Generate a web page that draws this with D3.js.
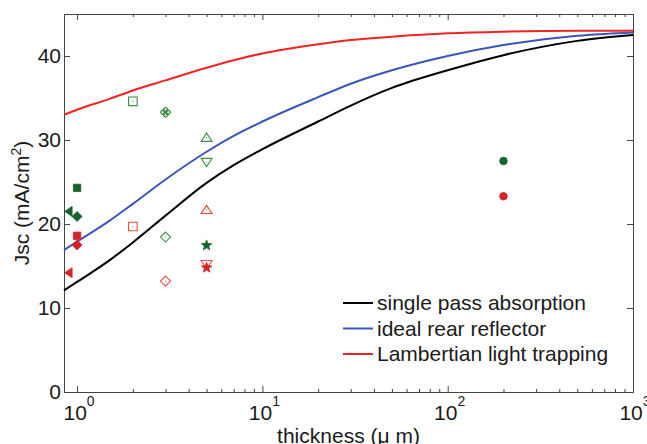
<!DOCTYPE html>
<html>
<head>
<meta charset="utf-8">
<script src="https://cdn.jsdelivr.net/npm/d3@7"></script>
<style>
  body { margin: 0; background: #fff; }
  svg text { font-family: "Liberation Sans", Arial, sans-serif; fill: #1a1a1a; }
  .axis path, .axis line { stroke: #444; }
</style>
</head>
<body>
<div id="chart"></div>
<script>
// curves
var thickness = [0.85, 1, 1.5, 2, 3, 5, 7, 10, 20, 30, 50, 100, 200, 500, 1000];
var singlePass = [12.1, 13.1, 15.7, 17.8, 21.0, 24.9, 27.0, 28.9, 32.2, 34.1, 36.2, 38.3, 40.1, 41.8, 42.5];
var rearReflector = [16.9, 17.9, 20.4, 22.4, 25.3, 28.6, 30.5, 32.2, 35.1, 36.7, 38.3, 40.0, 41.3, 42.4, 42.8];
var lambertian = [33.0, 33.6, 34.9, 35.9, 37.1, 38.6, 39.5, 40.3, 41.4, 41.9, 42.3, 42.7, 42.9, 43.0, 43.0];
var curveNames = ["single pass absorption", "ideal rear reflector", "Lambertian light trapping"];

// measured devices
var greenFilledX = [0.9, 1, 1, 5, 200];
var greenFilledY = [21.5, 24.3, 20.9, 17.45, 27.5];
var greenFilledShape = ["left", "square", "diamond", "star", "circle"];
var greenOpenX = [2, 3, 5, 5, 3];
var greenOpenY = [34.6, 33.3, 30.3, 27.35, 18.45];
var greenOpenShape = ["square", "diamondx", "up", "down", "diamond"];
var redFilledX = [0.9, 1, 1, 5, 200];
var redFilledY = [14.2, 18.6, 17.5, 14.8, 23.3];
var redFilledShape = ["left", "square", "diamond", "star", "circle"];
var redOpenX = [2, 3, 5, 5];
var redOpenY = [19.7, 13.2, 21.7, 15.2];
var redOpenShape = ["square", "diamond", "up", "down"];

var xMajor = [1, 10, 100, 1000];
var xMinor = [2,3,4,5,6,7,8,9,20,30,40,50,60,70,80,90,200,300,400,500,600,700,800,900];
var yTicks = [0, 10, 20, 30, 40];

var W = 647, H = 444;
var margin = {top: 14, right: 14, bottom: 52, left: 64};
var pL = margin.left, pR = W - margin.right, pT = margin.top, pB = H - margin.bottom;

var svg = d3.select("#chart").append("svg")
  .attr("width", W).attr("height", H);

var x = d3.scaleLog().domain([0.85, 1000]).range([pL, pR]);
var y = d3.scaleLinear().domain([0, 45]).range([pB, pT]);

// axes, MATLAB style box with inward ticks
function axisG(axis, tx, ty) {
  return svg.append("g").attr("class", "axis")
    .attr("transform", "translate(" + tx + "," + ty + ")")
    .call(axis);
}
axisG(d3.axisBottom(x).tickValues(xMajor).tickSize(-6).tickSizeOuter(0).tickFormat(""), 0, pB);
axisG(d3.axisBottom(x).tickValues(xMinor).tickSize(-3).tickSizeOuter(0).tickFormat(""), 0, pB);
axisG(d3.axisTop(x).tickValues(xMajor).tickSize(-6).tickSizeOuter(0).tickFormat(""), 0, pT);
axisG(d3.axisTop(x).tickValues(xMinor).tickSize(-3).tickSizeOuter(0).tickFormat(""), 0, pT);
var yl = axisG(d3.axisLeft(y).tickValues(yTicks).tickSize(-6).tickSizeOuter(0).tickPadding(3), pL, 0);
axisG(d3.axisRight(y).tickValues(yTicks).tickSize(-6).tickSizeOuter(0).tickFormat(""), pR, 0);
svg.selectAll(".axis path, .axis line").attr("stroke-width", 1);

yl.selectAll("text").style("font-size", "21px").attr("fill", "#1a1a1a")
  .style("font-family", "Liberation Sans, Arial, sans-serif");

// decade labels 10^n
var xl = svg.append("g").selectAll("text").data(xMajor).enter().append("text")
  .attr("x", function(d) { return x(d) + 2; })
  .attr("y", 420)
  .attr("text-anchor", "middle")
  .style("font-size", "21px");
xl.append("tspan").text("10");
xl.append("tspan").attr("dy", -14).style("font-size", "14px")
  .text(function(d) { return Math.round(Math.log10(d)); });

svg.append("text")
  .attr("x", (pL + pR) / 2).attr("y", 443)
  .attr("text-anchor", "middle")
  .style("font-size", "21px")
  .text("thickness (\u03bc m)");

var ylab = svg.append("text")
  .attr("transform", "translate(29," + ((pT + pB) / 2) + ") rotate(-90)")
  .attr("text-anchor", "middle")
  .style("font-size", "21px");
ylab.append("tspan").text("Jsc (mA/cm");
ylab.append("tspan").attr("dy", -8).style("font-size", "14px").text("2");
ylab.append("tspan").attr("dy", 8).text(")");

// curves
var curveColors = ["#000000", "#3a57b8", "#f02424"];
var curves = [singlePass, rearReflector, lambertian];
var line = d3.line()
  .x(function(d, i) { return x(thickness[i]); })
  .y(function(d) { return y(d); })
  .curve(d3.curveMonotoneX);
svg.append("g").selectAll("path").data(curves).enter().append("path")
  .attr("d", line)
  .attr("fill", "none")
  .attr("stroke", function(d, i) { return curveColors[i]; })
  .attr("stroke-width", 2);

// marker shapes (size = half width in px)
var shapes = {
  square: {draw: function(c, r) { c.rect(-r, -r, 2 * r, 2 * r); }},
  diamond: {draw: function(c, r) { c.moveTo(0, -r); c.lineTo(r, 0); c.lineTo(0, r); c.lineTo(-r, 0); c.closePath(); }},
  diamondx: {draw: function(c, r) {
    c.moveTo(0, -r); c.lineTo(r, 0); c.lineTo(0, r); c.lineTo(-r, 0); c.closePath();
    var q = r * 0.45;
    c.moveTo(q, -q); c.arc(0, -q, q, 0, 2 * Math.PI);
    c.moveTo(q, q); c.arc(0, q, q, 0, 2 * Math.PI);
    c.moveTo(0, 0); c.arc(-q, 0, q, 0, 2 * Math.PI);
    c.moveTo(2 * q, 0); c.arc(q, 0, q, 0, 2 * Math.PI);
  }},
  up: {draw: function(c, r) { c.moveTo(0, -r * 0.8); c.lineTo(r, r * 0.7); c.lineTo(-r, r * 0.7); c.closePath(); }},
  down: {draw: function(c, r) { c.moveTo(0, r * 0.8); c.lineTo(r, -r * 0.7); c.lineTo(-r, -r * 0.7); c.closePath(); }},
  left: {draw: function(c, r) { c.moveTo(-r * 0.8, 0); c.lineTo(r * 0.7, -r); c.lineTo(r * 0.7, r); c.closePath(); }},
  circle: {draw: function(c, r) { c.moveTo(r, 0); c.arc(0, 0, r, 0, 2 * Math.PI); }},
  star: {draw: function(c, r) {
    for (var k = 0; k < 10; k++) {
      var a = -Math.PI / 2 + k * Math.PI / 5, rr = k % 2 ? r * 0.42 : r;
      if (k === 0) c.moveTo(rr * Math.cos(a), rr * Math.sin(a)); else c.lineTo(rr * Math.cos(a), rr * Math.sin(a));
    }
    c.closePath();
  }}
};
var shapeSize = {square: 3.7, diamond: 5, diamondx: 5, up: 5.5, down: 5.5, left: 5, circle: 3.8, star: 5.5};

function drawMarkers(xs, ys, shp, color, filled) {
  var g = svg.append("g");
  g.selectAll("path").data(xs).enter().append("path")
    .attr("transform", function(d, i) { return "translate(" + x(d) + "," + y(ys[i]) + ")"; })
    .attr("d", function(d, i) {
      var s = shp[i];
      var r = filled ? shapeSize[s] : shapeSize[s] + (s === "square" ? 0.6 : 0);
      return d3.symbol().type(shapes[s]).size(r)();
    })
    .attr("fill", filled ? color : "none")
    .attr("stroke", color)
    .attr("stroke-width", filled ? 0.8 : 1.1);
  if (!filled) {
    g.selectAll("circle").data(xs).enter().append("circle")
      .attr("cx", function(d) { return x(d); })
      .attr("cy", function(d, i) { return y(ys[i]); })
      .attr("r", 0.6).attr("fill", color);
  }
}
drawMarkers(greenOpenX, greenOpenY, greenOpenShape, "#3f8f45", false);
drawMarkers(redOpenX, redOpenY, redOpenShape, "#e8503f", false);
drawMarkers(greenFilledX, greenFilledY, greenFilledShape, "#17622c", true);
drawMarkers(redFilledX, redFilledY, redFilledShape, "#d42428", true);

// legend
var leg = svg.append("g").selectAll("g").data(curveNames).enter().append("g")
  .attr("transform", function(d, i) { return "translate(343," + (303 + i * 25.5) + ")"; });
leg.append("line").attr("x1", 0).attr("x2", 30)
  .attr("stroke", function(d, i) { return curveColors[i]; })
  .attr("stroke-width", 2);
leg.append("text").attr("x", 34).attr("dy", "0.35em")
  .style("font-size", "21px")
  .text(function(d) { return d; });
</script>
</body>
</html>
